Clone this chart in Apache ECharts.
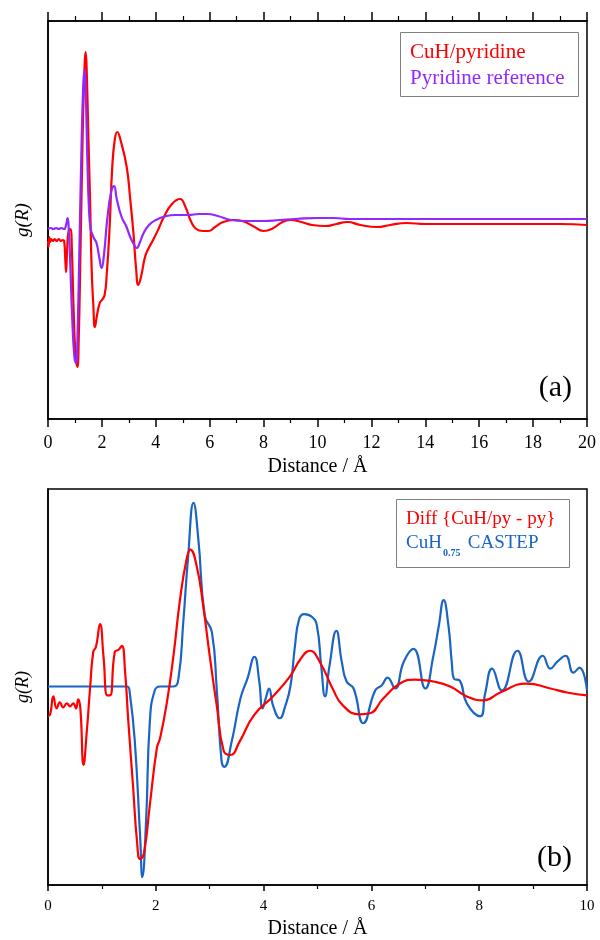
<!DOCTYPE html>
<html>
<head>
<meta charset="utf-8">
<script src="https://cdn.jsdelivr.net/npm/echarts@6/dist/echarts.min.js"></script>
<style>
html,body{margin:0;padding:0;background:#fff;}
#chart{width:600px;height:940px;}
</style>
</head>
<body>
<div id="chart"></div>
<script>
// ---------- DATA ----------
// Panel (a): g(R) vs distance (arbitrary units)
var cuhPyridine = [
 [0.00,-0.12],[0.02,-0.18],[0.05,-0.08],[0.08,-0.13],[0.12,-0.10],[0.18,-0.12],[0.25,-0.10],
 [0.32,-0.12],[0.40,-0.10],[0.48,-0.12],[0.55,-0.11],[0.60,-0.12],[0.64,-0.30],[0.67,-0.43],
 [0.71,-0.20],[0.76,-0.03],[0.84,0.00],[0.88,-0.15],[0.95,-0.80],[1.02,-1.25],[1.09,-1.38],
 [1.14,-1.10],[1.20,-0.30],[1.27,0.70],[1.33,1.40],[1.40,1.77],[1.44,1.55],[1.50,0.90],
 [1.56,0.30],[1.62,-0.40],[1.68,-0.75],[1.74,-0.98],[1.82,-0.86],[1.92,-0.74],[2.00,-0.71],
 [2.10,-0.66],[2.18,-0.45],[2.28,-0.02],[2.38,0.60],[2.48,0.90],[2.57,0.97],[2.70,0.88],
 [2.92,0.62],[3.05,0.30],[3.17,-0.04],[3.27,-0.40],[3.35,-0.56],[3.45,-0.48],[3.60,-0.28],
 [3.72,-0.20],[3.90,-0.11],[4.10,0.00],[4.30,0.12],[4.60,0.25],[4.90,0.30],[5.10,0.22],
 [5.30,0.08],[5.50,0.00],[5.75,-0.02],[5.95,-0.02],[6.20,0.02],[6.50,0.07],[6.90,0.09],
 [7.20,0.08],[7.60,0.03],[8.00,-0.02],[8.30,0.00],[8.70,0.07],[9.00,0.09],[9.40,0.07],
 [9.80,0.04],[10.30,0.03],[10.70,0.05],[11.10,0.07],[11.60,0.04],[12.20,0.02],[12.70,0.04],
 [13.30,0.06],[14.00,0.05],[15.00,0.05],[16.00,0.05],[17.00,0.05],[18.00,0.05],[19.00,0.05],[20.00,0.04]
];
var pyridineRef = [
 [0.00,0.00],[0.10,0.01],[0.20,0.00],[0.30,0.01],[0.40,0.00],[0.50,0.01],[0.60,0.00],[0.66,0.03],
 [0.73,0.11],[0.77,0.00],[0.82,-0.30],[0.90,-0.90],[0.98,-1.28],[1.04,-1.34],[1.10,-1.00],
 [1.18,0.00],[1.25,0.90],[1.31,1.45],[1.35,1.59],[1.40,1.35],[1.46,0.70],[1.52,0.20],[1.58,0.00],
 [1.64,-0.05],[1.70,-0.09],[1.80,-0.14],[1.90,-0.28],[1.99,-0.39],[2.08,-0.25],[2.20,0.10],
 [2.35,0.38],[2.45,0.43],[2.55,0.30],[2.73,0.12],[2.90,0.03],[3.05,-0.08],[3.18,-0.15],
 [3.29,-0.19],[3.40,-0.14],[3.55,-0.04],[3.75,0.04],[4.00,0.09],[4.40,0.13],[4.70,0.14],
 [5.20,0.14],[5.60,0.15],[5.90,0.15],[6.30,0.13],[6.80,0.09],[7.30,0.08],[8.00,0.08],[8.60,0.09],
 [9.20,0.10],[10.00,0.11],[10.60,0.11],[11.20,0.10],[12.00,0.10],[14.00,0.10],[16.00,0.10],
 [18.00,0.10],[20.00,0.10]
];
// Panel (b)
var diffCuH = [
 [0.00,-0.30],[0.04,-0.28],[0.10,-0.10],[0.16,-0.22],[0.22,-0.16],[0.28,-0.21],[0.35,-0.17],
 [0.41,-0.20],[0.47,-0.17],[0.52,-0.22],[0.56,-0.13],[0.60,-0.22],[0.66,-0.79],[0.72,-0.45],
 [0.78,-0.02],[0.84,0.35],[0.89,0.40],[0.965,0.63],[1.03,0.30],[1.10,-0.09],[1.15,-0.09],
 [1.24,0.35],[1.31,0.37],[1.37,0.41],[1.43,0.15],[1.49,-0.35],[1.58,-1.02],[1.65,-1.55],
 [1.71,-1.74],[1.78,-1.68],[1.89,-1.19],[2.02,-0.62],[2.08,-0.52],[2.20,-0.18],[2.33,0.32],
 [2.45,0.88],[2.57,1.28],[2.64,1.38],[2.76,1.21],[2.88,0.81],[3.00,0.31],[3.13,-0.19],
 [3.26,-0.65],[3.38,-0.69],[3.56,-0.55],[3.82,-0.29],[4.19,-0.09],[4.50,0.11],[4.69,0.28],
 [4.86,0.36],[5.04,0.25],[5.28,-0.02],[5.47,-0.19],[5.78,-0.28],[5.97,-0.27],[6.22,-0.12],
 [6.53,0.03],[6.81,0.07],[7.15,0.05],[7.46,0.00],[7.77,-0.10],[8.08,-0.14],[8.39,-0.06],
 [8.88,0.03],[9.32,-0.02],[9.63,-0.06],[10.00,-0.09]
];
var cuhCastep = [
 [0.00,0.00],[0.50,0.00],[1.00,0.00],[1.47,0.00],[1.52,-0.08],[1.61,-0.55],[1.71,-1.52],
 [1.75,-1.92],[1.82,-1.35],[1.89,-0.35],[1.98,-0.04],[2.08,0.00],[2.33,0.00],[2.42,0.08],
 [2.51,0.65],[2.60,1.31],[2.70,1.85],[2.79,1.48],[2.91,0.71],[3.04,0.55],[3.13,-0.02],
 [3.22,-0.75],[3.27,-0.81],[3.41,-0.55],[3.57,-0.12],[3.70,0.08],[3.83,0.30],[3.92,0.05],
 [3.98,-0.22],[4.05,-0.10],[4.10,-0.02],[4.18,-0.20],[4.30,-0.32],[4.40,-0.20],[4.50,0.01],
 [4.58,0.40],[4.66,0.68],[4.75,0.73],[4.90,0.70],[4.99,0.61],[5.07,0.20],[5.14,-0.10],
 [5.22,0.20],[5.35,0.56],[5.45,0.25],[5.54,0.05],[5.67,-0.02],[5.85,-0.37],[6.07,-0.04],
 [6.19,0.01],[6.30,0.09],[6.44,-0.02],[6.60,0.25],[6.78,0.38],[7.00,-0.02],[7.15,0.31],
 [7.25,0.61],[7.34,0.87],[7.43,0.61],[7.49,0.25],[7.53,0.08],[7.64,0.06],[7.77,-0.17],
 [8.02,-0.30],[8.11,-0.07],[8.24,0.18],[8.42,-0.04],[8.71,0.36],[8.92,0.05],[9.18,0.31],
 [9.32,0.18],[9.45,0.25],[9.60,0.31],[9.75,0.14],[9.86,0.19],[10.00,-0.04]
];
var legendA = ['CuH/pyridine', 'Pyridine reference'];
var legendB = ['Diff {CuH/py - py}', 'CuH', '0.75', ' CASTEP'];
var panelLabels = ['(a)', '(b)'];
var axisTitleX = 'Distance / Å';
var axisTitleY = 'g(R)';

// ---------- CHART ----------
var FONT = "'Liberation Serif','Times New Roman',serif";
var RED = '#ff0000', PURPLE = '#9128ff', BLUE = '#1a64c4';
var chart = echarts.init(document.getElementById('chart'), null, {renderer: 'canvas'});

function bottomAxis(grid, max, fs, tickLen, minorLen, nameGap, labelMargin) {
  return {
    type: 'value', gridIndex: grid, position: 'bottom', min: 0, max: max, interval: 2,
    axisLine: {show: true, onZero: false, lineStyle: {color: '#000', width: 1.5}},
    axisTick: {show: true, length: tickLen, lineStyle: {color: '#000', width: 1.5}},
    minorTick: {show: true, splitNumber: 2, length: minorLen, lineStyle: {color: '#000', width: 1.2}},
    splitLine: {show: false},
    axisLabel: {fontFamily: FONT, fontSize: fs, color: '#000', margin: labelMargin},
    name: axisTitleX, nameLocation: 'middle', nameGap: nameGap,
    nameTextStyle: {fontFamily: FONT, fontSize: 20, color: '#000'}
  };
}
function lineSeries(name, xi, yi, data, color) {
  return {name: name, type: 'line', xAxisIndex: xi, yAxisIndex: yi, data: data,
    showSymbol: false, smooth: 0.5,
    lineStyle: {color: color, width: 2.2, join: 'round'}};
}

var option = {
  backgroundColor: '#fff',
  animation: false,
  grid: [
    {left: 48, right: 13, top: 21, height: 398, show: true, borderColor: '#000', borderWidth: 1.5},
    {left: 48, right: 13, top: 489, height: 399, show: true, borderColor: '#000', borderWidth: 1.5}
  ],
  xAxis: [
    bottomAxis(0, 20, 18, 8, 4, 38, 15),
    {
      type: 'value', gridIndex: 0, position: 'top', min: 0, max: 20, interval: 2,
      axisLine: {show: true, onZero: false, lineStyle: {color: '#000', width: 1.5}},
      axisTick: {show: true, length: 9, lineStyle: {color: '#000', width: 1.5}},
      minorTick: {show: true, splitNumber: 2, length: 5, lineStyle: {color: '#000', width: 1.2}},
      splitLine: {show: false}, axisLabel: {show: false}
    },
    bottomAxis(1, 10, 15, 6, 4, 34, 14)
  ],
  yAxis: [
    {
      type: 'value', gridIndex: 0, min: -1.9, max: 2.08,
      axisLine: {show: true, onZero: false, lineStyle: {color: '#000', width: 1.5}},
      axisTick: {show: false}, axisLabel: {show: false}, splitLine: {show: false},
      name: axisTitleY, nameLocation: 'middle', nameGap: 16, nameRotate: 90,
      nameTextStyle: {fontFamily: FONT, fontSize: 19, fontStyle: 'italic', color: '#000'}
    },
    {
      type: 'value', gridIndex: 1, min: -2.0, max: 1.99,
      axisLine: {show: true, onZero: false, lineStyle: {color: '#000', width: 1.5}},
      axisTick: {show: false}, axisLabel: {show: false}, splitLine: {show: false},
      name: axisTitleY, nameLocation: 'middle', nameGap: 16, nameRotate: 90,
      nameTextStyle: {fontFamily: FONT, fontSize: 18, fontStyle: 'italic', color: '#000'}
    }
  ],
  series: [
    lineSeries(legendA[0], 0, 0, cuhPyridine, RED),
    lineSeries(legendA[1], 0, 0, pyridineRef, PURPLE),
    lineSeries('CuH0.75 CASTEP', 2, 1, cuhCastep, BLUE),
    lineSeries(legendB[0], 2, 1, diffCuH, RED)
  ],
  graphic: [
    {type: 'rect', shape: {x: 400.5, y: 32.5, width: 178, height: 64}, style: {fill: '#fff', stroke: '#808080', lineWidth: 1}, z: 10},
    {type: 'text', x: 410, y: 52, z: 11, style: {text: legendA[0], fontFamily: FONT, fontSize: 21, fill: RED, verticalAlign: 'middle'}},
    {type: 'text', x: 410, y: 78, z: 11, style: {text: legendA[1], fontFamily: FONT, fontSize: 21, fill: PURPLE, verticalAlign: 'middle'}},
    {type: 'text', x: 572, y: 388, z: 11, style: {text: panelLabels[0], fontFamily: FONT, fontSize: 30, fill: '#000', align: 'right', verticalAlign: 'middle'}},

    {type: 'rect', shape: {x: 396.5, y: 499.5, width: 173, height: 68}, style: {fill: '#fff', stroke: '#808080', lineWidth: 1}, z: 10},
    {type: 'text', x: 406, y: 519, z: 11, style: {text: legendB[0], fontFamily: FONT, fontSize: 19, fill: RED, verticalAlign: 'middle'}},
    {type: 'text', x: 406, y: 543, z: 11, style: {text: legendB[1], fontFamily: FONT, fontSize: 19, fill: BLUE, verticalAlign: 'middle'}},
    {type: 'text', x: 443, y: 553, z: 11, style: {text: legendB[2], fontFamily: FONT, fontSize: 10, fontWeight: 'bold', fill: BLUE, verticalAlign: 'middle'}},
    {type: 'text', x: 463, y: 543, z: 11, style: {text: legendB[3], fontFamily: FONT, fontSize: 19, fill: BLUE, verticalAlign: 'middle'}},
    {type: 'text', x: 572, y: 858, z: 11, style: {text: panelLabels[1], fontFamily: FONT, fontSize: 30, fill: '#000', align: 'right', verticalAlign: 'middle'}}
  ]
};
chart.setOption(option);
</script>
</body>
</html>
